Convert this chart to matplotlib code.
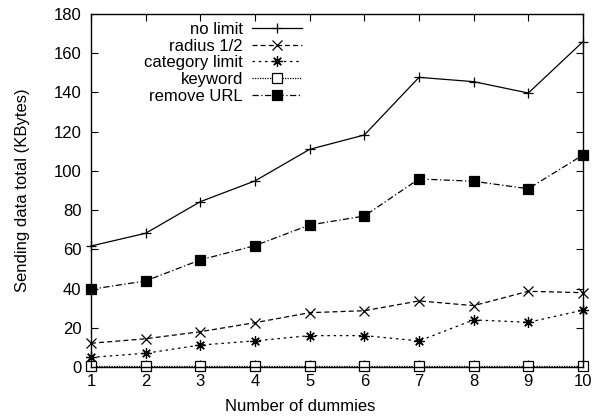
import matplotlib
matplotlib.use("Agg")
import matplotlib.pyplot as plt

plt.rcParams['font.family'] = ['Liberation Sans', 'DejaVu Sans']
plt.rcParams['font.size'] = 12

dummies = [1, 2, 3, 4, 5, 6, 7, 8, 9, 10]
no_limit = [61.7, 68.2, 84.3, 94.9, 111.0, 118.3, 147.7, 145.5, 139.7, 165.9]
radius_half = [12.1, 14.4, 18.0, 22.6, 27.7, 28.7, 33.7, 31.3, 38.6, 37.9]
category_limit = [4.9, 7.0, 11.2, 13.3, 16.0, 16.0, 13.3, 24.0, 22.8, 29.0]
keyword = [0.3, 0.3, 0.3, 0.3, 0.3, 0.3, 0.3, 0.3, 0.3, 0.3]
remove_url = [39.6, 43.9, 54.6, 61.9, 72.4, 77.0, 95.9, 94.7, 90.9, 108.1]

yticks = [0, 20, 40, 60, 80, 100, 120, 140, 160, 180]

fig = plt.figure(figsize=(6.02, 4.19), dpi=100)
ax = fig.add_axes([91/602, 1-367/419, (583-91)/602, (367-14)/419])

lw = 0.9
ax.plot(dummies, no_limit, color='black', lw=lw, ls='-', marker='+', ms=7.5, mew=0.9,
        label='no limit', clip_on=False)
ax.plot(dummies, radius_half, color='black', lw=lw, ls=(0, (4, 2.5)), marker='x', ms=7, mew=0.9,
        label='radius 1/2', clip_on=False)
ax.plot(dummies, category_limit, color='black', lw=lw, ls=(0, (2, 3)), marker=(8, 2, 0), ms=7.5, mew=0.9,
        label='category limit', clip_on=False)
ax.plot(dummies, keyword, color='black', lw=lw, ls=(0, (1, 1)), marker='s', ms=6.5, mew=0.9,
        mfc='white', label='keyword', clip_on=False)
ax.plot(dummies, remove_url, color='black', lw=lw, ls=(0, (5, 2, 1, 2)), marker='s', ms=7, mew=0.9,
        mfc='black', label='remove URL', clip_on=False)

ax.set_xlim(1, 10)
ax.set_ylim(0, 180)
ax.set_xticks(dummies)
ax.set_yticks(yticks)
ax.tick_params(direction='in', top=True, right=True, length=5, width=0.8, labelsize=12)
ax.tick_params(axis='x', pad=5)
ax.tick_params(axis='y', pad=7)
for s in ax.spines.values():
    s.set_linewidth(1.0)

ax.set_xlabel('Number of dummies', fontsize=12)
ax.set_ylabel('Sending data total (KBytes)', fontsize=12)
ax.xaxis.set_label_coords((300 - 91) / 492, (367 - 399) / 353)
ax.yaxis.set_label_coords((30 - 91) / 492, 0.5)

leg = ax.legend(loc='upper right', bbox_to_anchor=((302 - 91) / 492, (367 - 22) / 353),
                frameon=False, markerfirst=False, borderpad=0, borderaxespad=0,
                handlelength=3.0, handletextpad=0.55, labelspacing=0.1,
                fontsize=12)

fig.savefig('out.png', dpi=100)
